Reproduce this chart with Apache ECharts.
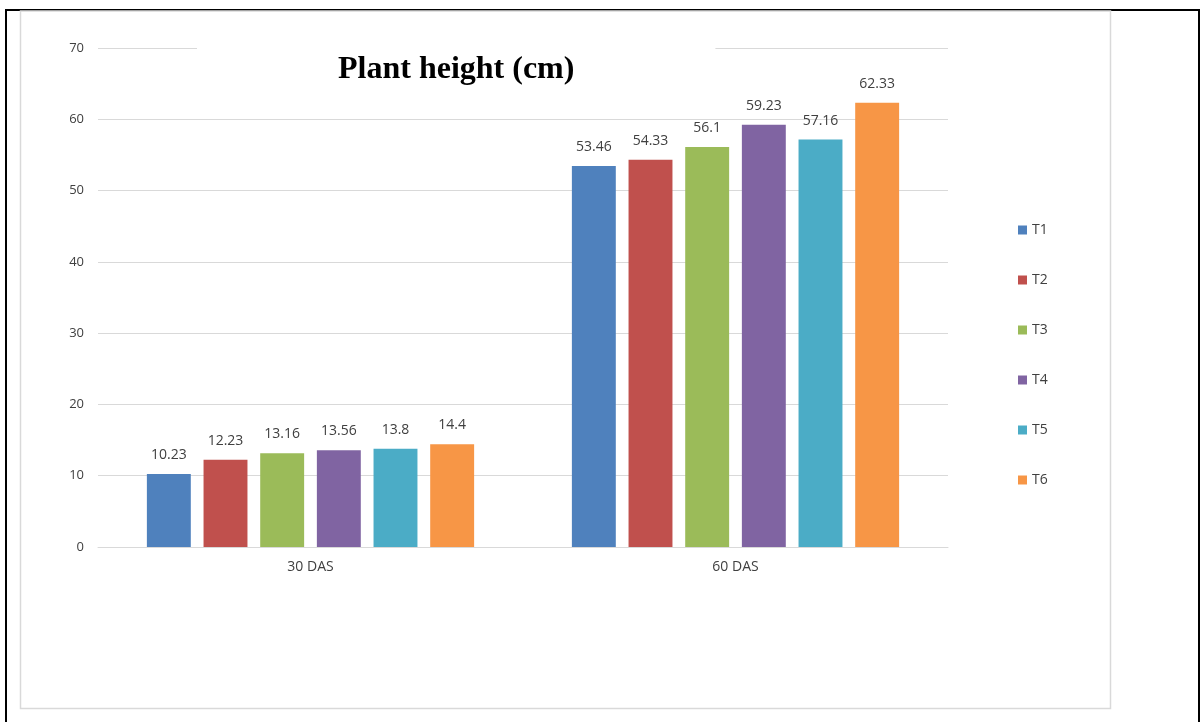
<!DOCTYPE html>
<html>
<head>
<meta charset="utf-8">
<script src="https://cdn.jsdelivr.net/npm/echarts@6/dist/echarts.min.js"></script>
<style>
	html, body { margin: 0; padding: 0; background: #fff; }
	#chart { width: 1203px; height: 722px; }
</style>
</head>
<body>
<div id="chart"></div>
<script>
	var categories = ['30 DAS', '60 DAS'];
	var seriesNames = ['T1', 'T2', 'T3', 'T4', 'T5', 'T6'];
	var t1 = [10.23, 53.46];
	var t2 = [12.23, 54.33];
	var t3 = [13.16, 56.1];
	var t4 = [13.56, 59.23];
	var t5 = [13.8, 57.16];
	var t6 = [14.4, 62.33];
	var colors = ['#4F81BD', '#C0504D', '#9BBB59', '#8064A2', '#4BACC6', '#F79646'];

	var values = [t1, t2, t3, t4, t5, t6];
	var font = 'Open Sans, Liberation Sans, sans-serif';

	var myChart = echarts.init(document.getElementById('chart'));
	var series = [];
	for (var i = 0; i < seriesNames.length; i++) {
		series.push({
			name: seriesNames[i],
			type: 'bar',
			barCategoryGap: '23%',
			barGap: '29%',
			itemStyle: { color: colors[i] },
			label: {
				show: true,
				position: 'top',
				distance: 12,
				color: '#404040',
				fontSize: 14,
				fontFamily: font
			},
			data: values[i]
		});
	}

	var option = {
		animation: false,
		title: {
			text: 'Plant height (cm)',
			left: 197,
			top: 46,
			padding: [8, 141, 6, 141],
			backgroundColor: '#fff',
			textStyle: {
				fontFamily: 'Liberation Serif, serif',
				fontWeight: 'bold',
				fontSize: 32,
				color: '#000'
			}
		},
		legend: {
			orient: 'vertical',
			left: 1013,
			top: 218,
			itemWidth: 9,
			itemHeight: 9,
			itemGap: 36,
			icon: 'rect',
			textStyle: { fontFamily: font, fontSize: 14, color: '#404040' },
			data: seriesNames
		},
		grid: {
			left: 98,
			right: 255,
			top: 48,
			bottom: 175
		},
		xAxis: {
			type: 'category',
			data: categories,
			axisTick: { show: false },
			axisLine: { lineStyle: { color: '#d9d9d9', width: 1 } },
			axisLabel: { color: '#404040', fontSize: 14, fontFamily: font, margin: 13 }
		},
		yAxis: {
			type: 'value',
			min: 0,
			max: 70,
			interval: 10,
			axisLine: { show: false },
			axisTick: { show: false },
			splitLine: { lineStyle: { color: '#d9d9d9', width: 1 } },
			axisLabel: { color: '#404040', fontSize: 13, fontFamily: font, margin: 14 }
		},
		graphic: [{
			type: 'rect',
			z: -10,
			shape: { x: 6, y: 10, width: 1193, height: 740 },
			style: { fill: null, stroke: '#000', lineWidth: 2 }
		}, {
			type: 'rect',
			z: -10,
			shape: { x: 20.5, y: 11, width: 1090, height: 697.5 },
			style: { fill: null, stroke: '#d9d9d9', lineWidth: 1.5 }
		}],
		series: series
	};
	myChart.setOption(option);
</script>
</body>
</html>
